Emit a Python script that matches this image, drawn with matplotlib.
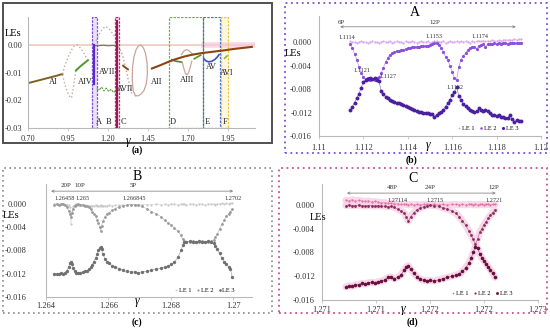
import matplotlib
matplotlib.use("Agg")
import matplotlib.pyplot as plt
import numpy as np
from matplotlib.patches import Rectangle
from matplotlib.lines import Line2D

plt.rcParams['font.family'] = ['Liberation Serif', 'DejaVu Serif']

# ---------------- (a) overview of the LEs vs gamma ----------------
a_xticks = [0.70, 0.95, 1.20, 1.45, 1.70, 1.95]
a_xticklabels = ['0.70', '0.95', '1.20', '1.45', '1.70', '1.95']
a_yticks = [0.0, -0.01, -0.02, -0.03]
a_yticklabels = ['0.00', '-0.01', '-0.02', '-0.03']

a_ai_x = [0.70, 0.76, 0.82, 0.88, 0.915]
a_ai_y = [-0.0138, -0.0129, -0.0120, -0.0111, -0.0105]
a_dot1_x = [0.915, 0.93, 0.95, 0.97, 0.99, 1.01, 1.03, 1.05, 1.07]
a_dot1_y = [-0.0105, -0.0075, -0.0045, -0.002, -0.0003, 0.0, -0.0012, -0.003, -0.0052]
a_dot2_x = [0.915, 0.93, 0.945, 0.96, 0.972, 0.985, 1.0]
a_dot2_y = [-0.0108, -0.0140, -0.0168, -0.0185, -0.0192, -0.0150, -0.0092]
a_aiv_x = [1.0, 1.03, 1.06, 1.075]
a_aiv_y = [-0.0092, -0.0076, -0.0062, -0.0055]
a_arc_x = [1.125, 1.145, 1.165, 1.185, 1.205, 1.225, 1.245]
a_arc_y = [0.0015, 0.0038, 0.0058, 0.0067, 0.0060, 0.0045, 0.0028]
a_flat_x = [1.11, 1.14, 1.17, 1.20, 1.23, 1.255]
a_flat_y = [-0.0002, -0.0003, -0.0001, -0.0003, -0.0002, -0.0003]
a_wave_x = [1.13, 1.145, 1.16, 1.175, 1.19, 1.205, 1.22, 1.235, 1.25]
a_wave_y = [-0.0158, -0.0163, -0.0152, -0.0166, -0.0156, -0.0168, -0.0160, -0.0172, -0.0164]
a_dot3_x = [1.265, 1.28, 1.295, 1.31, 1.325, 1.34, 1.352]
a_dot3_y = [-0.0005, -0.002, -0.0045, -0.008, -0.012, -0.0155, -0.0183]
a_seg_x = [1.295, 1.31, 1.325]
a_seg_y = [-0.0075, -0.0082, -0.0088]
a_aii_x = [1.372, 1.358, 1.352, 1.354, 1.362, 1.375, 1.39, 1.405, 1.42, 1.435,
           1.445, 1.447, 1.44, 1.425, 1.405, 1.388, 1.372]
a_aii_y = [-0.0183, -0.0165, -0.0125, -0.008, -0.0045, -0.0018, -0.0004, 0.0, -0.0008, -0.003,
           -0.0065, -0.0105, -0.014, -0.0165, -0.0178, -0.0184, -0.0183]
a_main_x = [1.475, 1.52, 1.57, 1.62, 1.67, 1.72, 1.78, 1.85, 1.92, 1.98, 2.04, 2.10]
a_main_y = [-0.0085, -0.0075, -0.0063, -0.0052, -0.0043, -0.0036, -0.003, -0.0025, -0.002,
            -0.0015, -0.0011, -0.0007]
a_aiii_g_x = [1.60, 1.62, 1.64, 1.66]
a_aiii_g_y = [-0.0053, -0.0058, -0.0060, -0.0062]
a_aiii_t_x = [1.66, 1.675, 1.69, 1.705, 1.72, 1.735]
a_aiii_t_y = [-0.0035, -0.0022, -0.0017, -0.0020, -0.0028, -0.0036]
a_aiii_d_x = [1.665, 1.675, 1.685, 1.695, 1.705, 1.715, 1.725]
a_aiii_d_y = [-0.0062, -0.0085, -0.0103, -0.0108, -0.0100, -0.0080, -0.0058]
a_aiii_g2_x = [1.74, 1.76, 1.78]
a_aiii_g2_y = [-0.0050, -0.0043, -0.0037]
a_av_x = [1.80, 1.815, 1.83, 1.85, 1.87, 1.885, 1.895]
a_av_y = [-0.0050, -0.0058, -0.0061, -0.0059, -0.0052, -0.0043, -0.0035]
a_avi_x = [1.93, 1.945]
a_avi_y = [-0.0048, -0.0040]
a_colA_x = [1.1125, 1.1125]
a_colA_y = [0.0, -0.014]
a_colB_x = [1.256, 1.256]
a_colB_y = [0.0085, -0.03]
a_glow_x = [1.80, 2.12]
a_glow_y = [0.0, 0.0]

# windows: (name, x0, x1, edge, face)
a_windows = [('A', 1.098, 1.129, '#7a4fd8', '#d9c8f5'),
             ('BC', 1.244, 1.269, '#c0307a', '#f0a8cc'),
             ('D', 1.583, 1.796, '#6ab04c', None),
             ('E', 1.796, 1.904, '#4a6ad0', None),
             ('F', 1.91, 1.952, '#e8c840', '#fbf3c8')]
a_names = [('AI', 0.856, -0.0134), ('AIV', 1.056, -0.0134), ('AVII', 1.194, -0.0097),
           ('AVII', 1.306, -0.0159), ('AII', 1.506, -0.0134), ('AIII', 1.694, -0.0126),
           ('AV', 1.85, -0.0079), ('AVI', 1.944, -0.0101),
           ('A', 1.144, -0.0280), ('B', 1.206, -0.0280), ('C', 1.294, -0.0280),
           ('D', 1.606, -0.0280), ('E', 1.82, -0.0280), ('F', 1.93, -0.0280)]

# ---------------- (b) window A ----------------
b_x = [1.1114, 1.1115, 1.1116, 1.1117, 1.1118, 1.1119, 1.1120, 1.1121, 1.1122, 1.1123,
       1.1124, 1.1125, 1.1126, 1.1127, 1.1128, 1.1129, 1.1130, 1.1131, 1.1132, 1.1133,
       1.1134, 1.1135, 1.1136, 1.1137, 1.1138, 1.1139, 1.1140, 1.1141, 1.1142, 1.1143,
       1.1144, 1.1145, 1.1146, 1.1147, 1.1148, 1.1149, 1.1150, 1.1151, 1.1152, 1.1153,
       1.1154, 1.1155, 1.1156, 1.1157, 1.1158, 1.1159, 1.1160, 1.1161, 1.1162, 1.1163,
       1.1164, 1.1165, 1.1166, 1.1167, 1.1168, 1.1169, 1.1170, 1.1171, 1.1172, 1.1173,
       1.1174, 1.1175, 1.1176, 1.1177, 1.1178, 1.1179, 1.1180, 1.1181, 1.1182, 1.1183,
       1.1184, 1.1185, 1.1186, 1.1187, 1.1188, 1.1189, 1.1190, 1.1191]
b_le1 = [1, 0, 0, -1, 0, 1, 0, 0, -1, 0, 1, 0, 0, -1, 0, 1, 0, 0, 1, -1,
         0, 1, 0, 0, -1, 1, 0, 0, 1, 0, -1, 0, 1, 0, 0, 1, -1, 0, 2, 1,
         0, 0, 1, -1, 0, 1, 0, 0, 1, 0, 1, 0, 1, 0, -1, 1, 0, 1, 2, 1,
         2, 1, 2, 1, 3, 2, 2, 3, 2, 3, 4, 3, 4, 3, 5, 4, 5, 5]
b_le2 = [-3, -10, -20, -30, -42, -52, -60, -63, -62, -64, -63, -64, -62, -60, -53, -44, -34, -27, -22, -19,
         -17, -16, -15, -14, -13, -12, -11, -10, -9, -9, -8, -8, -7, -7, -6, -6, -5, -4, -2, -1,
         -5, -10, -17, -25, -31, -40, -51, -62, -64, -42, -30, -24, -19, -13, -10, -9, -8, -12, -6, -5,
         -4, -8, -4, -3, -3, -2, -3, -2, -3, -2, -2, -3, -2, -1, -2, -2, -1, -2]
b_le3 = [-116, -110, -103, -96, -88, -78, -68, -64, -63, -62, -63, -62, -64, -66, -84, -89, -93, -96, -98, -100,
         -102, -103, -104, -106, -107, -109, -110, -112, -114, -115, -117, -119, -119, -120, -121, -121, -122, -123, -127, -124,
         -121, -119, -115, -110, -104, -98, -90, -85, -77, -92, -99, -105, -109, -112, -115, -117, -119, -118, -113, -116,
         -117, -116, -118, -121, -124, -124, -126, -125, -128, -127, -130, -129, -124, -131, -136, -133, -135, -135]
b_notes = [('1.1114', 1.11126, 0.0008), ('1.1153', 1.1152, 0.0009), ('1.1174', 1.11725, 0.0009),
           ('1.1121', 1.11194, -0.0049), ('1.1127', 1.1131, -0.0058), ('1.1162', 1.11613, -0.0077)]
b_periods = [('6P', 1.1110, 0.0034), ('12P', 1.1152, 0.0034)]
b_span = [1.11095, 1.11887, 0.0026]

# ---------------- (c) window B ----------------
c_x = [1.26427, 1.26434, 1.26441, 1.26448, 1.26454, 1.2646, 1.26466, 1.26473, 1.26477, 1.2648,
       1.26483, 1.26487, 1.26492, 1.26497, 1.26501, 1.26509, 1.26517, 1.26525, 1.26532, 1.26538,
       1.26544, 1.26548, 1.26553, 1.26559, 1.26564, 1.26568, 1.26572, 1.26575, 1.26578, 1.26582,
       1.26589, 1.26595, 1.26601, 1.26612, 1.26622, 1.26633, 1.26646, 1.26659, 1.26672, 1.26685,
       1.26696, 1.26706, 1.26722, 1.26738, 1.26754, 1.26769, 1.2678, 1.26791, 1.26801, 1.26811,
       1.26822, 1.26833, 1.26838, 1.26842, 1.2685, 1.2686, 1.2687, 1.2688, 1.2689, 1.269,
       1.2691, 1.2692, 1.2693, 1.26937, 1.26943, 1.26949, 1.26956, 1.26964, 1.26971, 1.26978,
       1.26985, 1.26991, 1.26996]
c_le1 = [0, 0, -1, 0, 0, -1, -1, -2, -6, -35, -14, -4, -1, 0, -1, -1, -2, -2, -3, -3,
         -3, -3, -3, -2, -3, -3, -3, -2, -3, -3, -3, -3, -2, -3, -2, -2, -2, -2, -1, -1,
         -1, -1, -1, -1, 0, -1, 0, -1, 0, 0, -1, 0, 0, 0, -1, 0, 0, -1, 0, 0,
         -1, 0, 0, 0, -1, 0, 0, 1, 0, 1, 0, 1, 2]
c_le2 = [-1, 0, -1, 0, 0, -2, -5, -12, -18, -23, -16, -8, -3, -1, 0, -1, -1, -3, -4, -6,
         -9, -13, -17, -20, -27, -33, -40, -46, -38, -30, -22, -17, -15, -11, -8, -5, -3, -2, -1, -1,
         -2, -4, -8, -13, -17, -22, -28, -33, -36, -41, -47, -54, -61, -64, -66, -65, -64, -66, -65, -64,
         -66, -65, -64, -62, -57, -52, -43, -35, -27, -21, -17, -13, -9]
c_le3 = [-120, -121, -120, -119, -120, -118, -115, -108, -102, -100, -104, -110, -116, -119, -119, -118, -117, -116, -115, -112,
         -109, -105, -99, -93, -86, -80, -76, -74, -78, -86, -94, -99, -102, -106, -109, -111, -114, -116, -117, -117,
         -118, -117, -116, -114, -112, -110, -109, -107, -104, -100, -92, -80, -71, -66, -65, -64, -66, -65, -64, -66,
         -65, -64, -66, -68, -73, -78, -85, -93, -99, -104, -108, -111, -125]
c_notes = [('1.26458', 1.2646, 0.0010), ('1.265', 1.26517, 0.0010), ('1.266845', 1.26684, 0.0010),
           ('1.2702', 1.2700, 0.0010)]
c_periods = [('20P', 1.26463, 0.0032), ('10P', 1.26507, 0.0032), ('5P', 1.26681, 0.0032)]
c_span = [1.26416, 1.2700, 0.0022]

# ---------------- (d) window C ----------------
d_x = [1.27072, 1.27075, 1.27078, 1.27081, 1.27084, 1.27087, 1.2709, 1.27093, 1.27096, 1.27099,
       1.27102, 1.27105, 1.27108, 1.27111, 1.27114, 1.27117, 1.2712, 1.27123, 1.27126, 1.27128,
       1.2713, 1.27132, 1.27135, 1.27138, 1.27141, 1.27144, 1.27147, 1.2715, 1.27154, 1.27158,
       1.27162, 1.27166, 1.2717, 1.27174, 1.27177, 1.2718, 1.27183, 1.27186, 1.27188, 1.2719,
       1.27192, 1.27194, 1.27196, 1.27198, 1.272, 1.27202, 1.27204, 1.27206, 1.27208, 1.2721]
d_le1 = [8, 7, 9, 6, 8, 7, 6, 7, 5, 6, 5, 4, 4, 3, 3, 2, 2, 1, 1, 1,
         0, 1, 0, 1, 0, 1, 1, 0, 1, 0, 1, 0, 1, 1, 0, 1, 0, 1, 1, 0,
         1, 0, 1, 1, 0, 1, 1, 0, 1, 1]
d_le2 = [-1, 0, -1, -1, 0, -1, -2, -1, -1, -2, -1, -2, -2, -3, -2, -4, -7, -10, -13, -20,
         -27, -20, -13, -8, -5, -3, -1, 0, -1, -2, -5, -7, -10, -14, -20, -27, -34, -44, -50, -58,
         -66, -58, -46, -40, -33, -28, -22, -17, -13, -9]
d_le3 = [-138, -136, -137, -135, -134, -132, -133, -131, -130, -131, -129, -128, -126, -122, -121, -124, -122, -118, -110, -104,
         -102, -108, -115, -121, -125, -127, -128, -127, -128, -126, -124, -122, -120, -118, -116, -112, -106, -98, -90, -80,
         -70, -72, -82, -89, -94, -99, -104, -109, -115, -122]
d_notes = [('1.27114', 1.2712, 0.0008), ('1.2715', 1.27155, 0.0008), ('1.2721', 1.27209, 0.0008)]
d_periods = [('48P', 1.27115, 0.0029), ('24P', 1.2715, 0.0029), ('12P', 1.27209, 0.0029)]
d_span = [1.27073, 1.27211, 0.0020]

lyap_yticks = [0.0, -0.004, -0.008, -0.012, -0.016]
lyap_yticklabels = ['0.000', '-0.004', '-0.008', '-0.012', '-0.016']
b_xticks = [1.11, 1.112, 1.114, 1.116, 1.118, 1.12]
b_xticklabels = ['1.11', '1.112', '1.114', '1.116', '1.118', '1.12']
c_xticks = [1.264, 1.266, 1.268, 1.27]
c_xticklabels = ['1.264', '1.266', '1.268', '1.27']
d_xticks = [1.2705, 1.271, 1.2715, 1.272, 1.2725]
d_xticklabels = ['1.271', '1.271', '1.272', '1.272', '1.273']

W, H = 550, 332
fig = plt.figure(figsize=(5.5, 3.32), dpi=100)


def px_rect(l, t, r, b):
    return [l / W, 1 - b / H, (r - l) / W, (b - t) / H]


def ftext(x, y, s, **kw):
    fig.text(x / W, 1 - y / H, s, ha='center', va='center', **kw)


def frame(l, t, r, b, color, ls, lw):
    fig.add_artist(Rectangle((l / W, 1 - b / H), (r - l) / W, (b - t) / H,
                             transform=fig.transFigure, fill=False,
                             ec=color, ls=ls, lw=lw))


def style(ax, xt, xtl, yt, ytl, xpad, ypad):
    for s in ['top', 'right']:
        ax.spines[s].set_visible(False)
    for s in ['left', 'bottom']:
        ax.spines[s].set_color('#b8b8b8')
        ax.spines[s].set_linewidth(0.8)
    ax.set_xticks(xt)
    ax.set_xticklabels(xtl)
    ax.set_yticks(yt)
    ax.set_yticklabels(ytl)
    ax.tick_params(axis='x', length=2, width=0.5, color='#b8b8b8',
                   labelcolor='#333333', labelsize=6, pad=xpad)
    ax.tick_params(axis='y', length=0, labelcolor='#333333', labelsize=6, pad=ypad)
    ax.patch.set_alpha(0)


# ---- frames ----
frame(3, 3, 272, 143, '#505050', '-', 1.4)
frame(285, 3, 547, 153, '#7a4fd8', (0, (1, 2)), 1.3)
frame(3, 168, 272, 313, '#8a8a8a', (0, (1, 2)), 1.2)
frame(279, 168, 547, 313, '#c8508c', (0, (1, 2)), 1.3)

# ---- (a) ----
ax = fig.add_axes(px_rect(28, 17, 255, 128))
ax.set_xlim(0.70, 2.12)
ax.set_ylim(-0.03, 0.0101)
style(ax, a_xticks, a_xticklabels, a_yticks, a_yticklabels, 3, 4)
ax.axhline(0, color='#ecccbc', lw=1.2, zorder=1)
ax.plot(a_glow_x, a_glow_y, color='#f8c8dc', lw=4, alpha=0.7, zorder=1)
for name, x0, x1, ec, fc in a_windows:
    if fc is not None:
        ax.axvspan(x0, x1, facecolor=fc, alpha=0.55, lw=0, zorder=0)
    ax.axvspan(x0, x1, facecolor='none', edgecolor=ec, ls=(0, (2, 1)), lw=0.9, zorder=2)
ax.plot(a_ai_x, a_ai_y, color='#7d6320', lw=1.4)
ax.plot(a_dot1_x, a_dot1_y, color='#c8a898', ls=':', lw=1.0)
ax.plot(a_dot2_x, a_dot2_y, color='#c8a898', ls=':', lw=1.0)
ax.plot(a_aiv_x, a_aiv_y, color='#4a9a2a', lw=1.4)
ax.plot(a_arc_x, a_arc_y, color='#b8b0b0', ls=':', lw=1.0)
ax.plot(a_flat_x, a_flat_y, color='#707070', lw=0.8)
ax.plot(a_wave_x, a_wave_y, color='#5a9a40', ls=(0, (2, 1)), lw=0.8)
ax.plot(a_dot3_x, a_dot3_y, color='#c0a098', ls=':', lw=1.0)
ax.plot(a_seg_x, a_seg_y, color='#8b4513', lw=1.4)
ax.plot(a_aii_x, a_aii_y, color='#c8a49a', lw=0.9)
ax.plot(a_main_x, a_main_y, color='#8b4513', lw=1.5, zorder=4)
ax.plot(a_aiii_g_x, a_aiii_g_y, color='#5a7a40', lw=1.2)
ax.plot(a_aiii_t_x, a_aiii_t_y, color='#c8a898', lw=0.9)
ax.plot(a_aiii_d_x, a_aiii_d_y, color='#c8a898', lw=0.9)
ax.plot(a_aiii_g2_x, a_aiii_g2_y, color='#4a9a2a', lw=1.2)
ax.plot(a_av_x, a_av_y, color='#3a50c8', lw=1.2)
ax.plot(a_avi_x, a_avi_y, color='#a0b030', lw=1.2)
ax.plot(a_colA_x, a_colA_y, color='#5a2ad0', lw=1.6, zorder=5)
ax.plot(a_colB_x, a_colB_y, color='#9a1050', lw=1.4, zorder=5)
for s, x, y in a_names:
    ax.text(x, y, s, fontsize=6, ha='center', va='center', color='#222222', zorder=6)
ftext(13, 33, 'LEs', fontsize=7.5)
ftext(128, 141, 'γ', fontsize=8.5, style='italic')
ftext(137, 150, '(a)', fontsize=7, fontweight='bold')


def lyap_panel(rect, xlim, xt, xtl, x, le1, le2, le3, cols, sizes, notes, periods, span,
               legpos, xpad, ypad, glow=None):
    ax = fig.add_axes(px_rect(*rect))
    ax.set_xlim(*xlim)
    ax.set_ylim(-0.016, 0.0035)
    style(ax, xt, xtl, lyap_yticks, lyap_yticklabels, xpad, ypad)
    series = [np.array(le1) * 1e-4, np.array(le2) * 1e-4, np.array(le3) * 1e-4]
    if glow is not None:
        for s in series:
            ax.plot(x, s, color=glow, lw=5, alpha=0.8, solid_capstyle='round', zorder=1)
    hs = []
    for i, s in enumerate(series):
        ax.plot(x, s, color=cols[i], lw=0.5, alpha=0.6, zorder=2 + i)
        ax.plot(x, s, ls='', marker='o', ms=sizes[i], color=cols[i], mec='none', zorder=2 + i)
        hs.append(Line2D([], [], ls='', marker='o', ms=sizes[i] * 0.8, color=cols[i],
                         mec='none', label='LE %d' % (i + 1)))
    ax.annotate('', xy=(span[0], span[2]), xytext=(span[1], span[2]),
                arrowprops=dict(arrowstyle='<->', color='#888888', lw=0.6,
                                mutation_scale=4, shrinkA=0, shrinkB=0))
    for s, xx, yy in notes:
        ax.text(xx, yy, s, fontsize=4.5, ha='center', va='center', color='#333333', zorder=6)
    for s, xx, yy in periods:
        ax.text(xx, yy, s, fontsize=5, ha='center', va='center', color='#333333')
    ax.legend(handles=hs, ncol=3, loc='center', bbox_to_anchor=legpos, fontsize=4.5,
              frameon=False, handlelength=0.5, handletextpad=0.2, columnspacing=0.8,
              borderpad=0)
    return ax


ax_b = lyap_panel((319, 15.6, 541, 136), (1.11, 1.12), b_xticks, b_xticklabels,
                  b_x, b_le1, b_le2, b_le3, ['#d8a8ec', '#8a50dc', '#4a1fa0'], [1.6, 2.3, 2.8],
                  b_notes, b_periods, b_span, (0.76, 0.066), 3.5, 5)
ax_b.set_ylim(-0.016, 0.0045)
ax_c = lyap_panel((46, 183.6, 252, 297), (1.264, 1.2706), c_xticks, c_xticklabels,
                  c_x, c_le1, c_le2, c_le3, ['#c8c8c8', '#9a9a9a', '#707070'], [1.6, 2.0, 2.4],
                  c_notes, c_periods, c_span, (0.77, 0.06), 1.5, 14)
ax_d = lyap_panel((322, 184.2, 538, 300), (1.2705, 1.2725), d_xticks, d_xticklabels,
                  d_x, d_le1, d_le2, d_le3, ['#e070a8', '#8a2a5a', '#6a1040'], [1.6, 2.0, 2.6],
                  d_notes, d_periods, d_span, (0.74, 0.06), 2, 5, glow='#f8d0e4')

ftext(415, 12, 'A', fontsize=10)
ftext(137, 177, 'B', fontsize=10)
ftext(413, 178, 'C', fontsize=10)
ftext(293, 53, 'LEs', fontsize=7.5)
ftext(11, 215, 'LEs', fontsize=7.5)
ftext(318, 217, 'LEs', fontsize=7.5)
ftext(428, 145, 'γ', fontsize=8.5, style='italic')
ftext(137, 301, 'γ', fontsize=8.5, style='italic')
ftext(403, 309, 'γ', fontsize=8.5, style='italic')
ftext(412, 160, '(b)', fontsize=7, fontweight='bold')
ftext(137, 322, '(c)', fontsize=7, fontweight='bold')
ftext(412, 322, '(d)', fontsize=7, fontweight='bold')

fig.savefig('out.png', dpi=100)
